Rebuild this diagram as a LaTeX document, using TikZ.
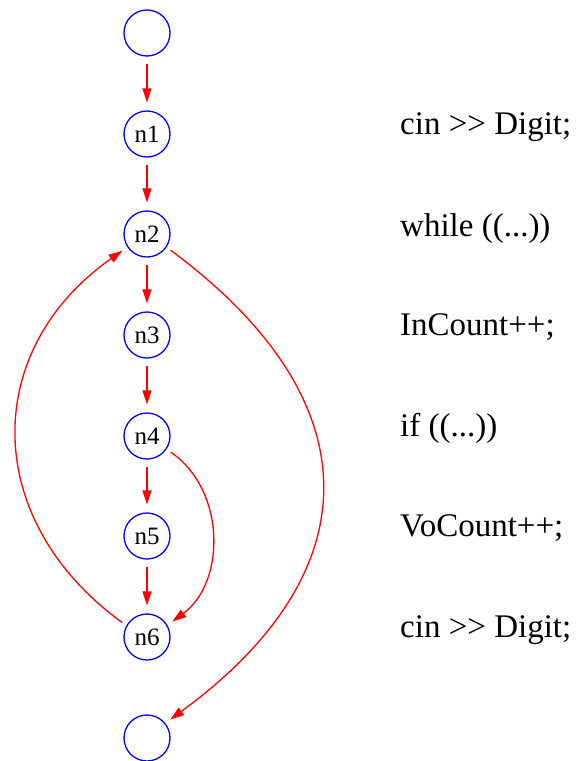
\documentclass[tikz,border=0pt]{standalone}
\usepackage{fontspec}
\setmainfont{Liberation Serif}
\usetikzlibrary{arrows.meta}
\begin{document}
\begin{tikzpicture}[x=1pt,y=-1pt,
  cfgnode/.style={circle,draw=blue,line width=1.3pt,minimum size=46pt,inner sep=0pt,font=\fontsize{25}{27}\selectfont},
  flow/.style={draw=red,line width=1.3pt,-{Triangle[length=14pt,width=9pt]}},
  vflow/.style={flow,shorten <=7pt,shorten >=8pt},
  cflow/.style={flow,shorten <=5pt,shorten >=6pt},
  code/.style={anchor=base west,inner sep=0pt,font=\fontsize{33}{36}\selectfont}]
\useasboundingbox (0,0) rectangle (577,761);
\node[cfgnode] (s) at (147,33) {};
\node[cfgnode] (n1) at (147,134) {n1};
\node[cfgnode] (n2) at (147,234) {n2};
\node[cfgnode] (n3) at (147,335) {n3};
\node[cfgnode] (n4) at (147,436) {n4};
\node[cfgnode] (n5) at (147,536) {n5};
\node[cfgnode] (n6) at (147,637) {n6};
\node[cfgnode] (e) at (147,738) {};
\node[code] (t1) at (400,134) {cin >{}> Digit;};
\node[code] (t2) at (400,236) {while ((...))};
\node[code] (t3) at (400,335) {InCount++;};
\node[code] (t4) at (400,436) {if ((...))};
\node[code] (t5) at (400,536) {VoCount++;};
\node[code] (t6) at (400,637) {cin >{}> Digit;};
\draw[vflow] (s) -- (n1);
\draw[vflow] (n1) -- (n2);
\draw[vflow] (n2) -- (n3);
\draw[vflow] (n3) -- (n4);
\draw[vflow] (n4) -- (n5);
\draw[vflow] (n5) -- (n6);
\draw[cflow] (n6.151) .. controls (-19,520) and (-19,350) .. (n2.214);
\draw[cflow] (n2.-34) .. controls (373,400) and (373,571) .. (e.39);
\draw[cflow] (n4.-34) .. controls (226,490) and (226,582) .. (n6.30);
\end{tikzpicture}
\end{document}
